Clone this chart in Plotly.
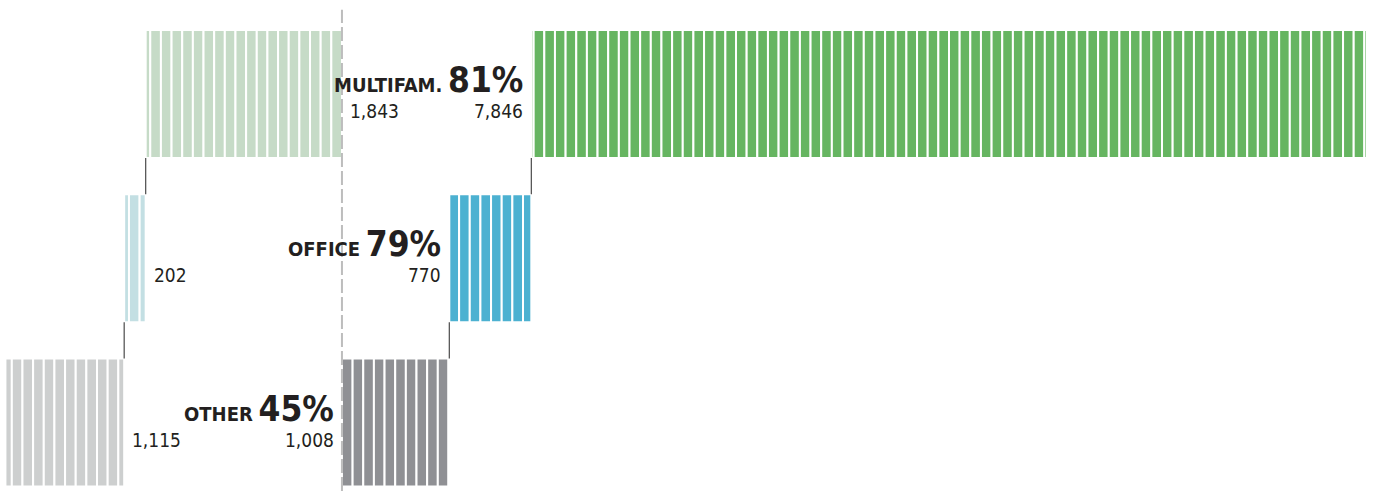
import math
import plotly.graph_objects as go

# ---- data ----
categories = ["MULTIFAM.", "OFFICE", "OTHER"]
left_values = [1843, 202, 1115]      # left (lighter) bars
right_values = [7846, 770, 1008]     # right (darker) bars
share_labels = ["81%", "79%", "45%"]
left_colors = ["#c6dbc7", "#c3dfe3", "#cdcfcf"]
right_colors = ["#66b561", "#4cb1d1", "#8f9094"]

rows = [2, 1, 0]          # vertical position of each category (top to bottom)
HALF = 0.39               # half bar thickness in row units
STEP = 100                # units per stripe
TEXT = "#231f20"
FONT = "Liberation Sans Narrow, Arial Narrow, DejaVu Sans Condensed, sans-serif"

n = len(categories)
# right side stacks from the bottom row upward
right_start = [0] * n
acc = 0
for i in reversed(range(n)):
    right_start[i] = acc
    acc += right_values[i]
# left side stacks from the top row downward (negative direction)
left_start = [0] * n
acc = 0
for i in range(n):
    left_start[i] = -acc
    acc += left_values[i]


def chunks(a, b, step=STEP):
    """split [a, b] (a < b) at multiples of step"""
    cuts = [a]
    k = math.floor(a / step) + 1
    while k * step < b:
        cuts.append(k * step)
        k += 1
    cuts.append(b)
    return [(cuts[j], cuts[j + 1] - cuts[j]) for j in range(len(cuts) - 1)]


fig = go.Figure()

for i in range(n):
    for (lo, hi, col) in [
        (left_start[i] - left_values[i], left_start[i], left_colors[i]),
        (right_start[i], right_start[i] + right_values[i], right_colors[i]),
    ]:
        parts = chunks(lo, hi)
        fig.add_trace(go.Bar(
            orientation="h",
            y=[rows[i]] * len(parts),
            base=[p[0] for p in parts],
            x=[p[1] for p in parts],
            width=HALF * 2,
            marker=dict(color=col, line=dict(color="white", width=2)),
            hoverinfo="skip",
            showlegend=False,
        ))

# connectors between consecutive rows
for i in range(n - 1):
    y_top = rows[i] - HALF
    y_bot = rows[i + 1] + HALF
    for xv in (left_start[i] - left_values[i], right_start[i]):
        fig.add_trace(go.Scatter(
            x=[xv, xv], y=[y_top, y_bot], mode="lines",
            line=dict(color="#4a4a4a", width=1.2),
            hoverinfo="skip", showlegend=False,
        ))

# dashed zero line
fig.add_shape(type="line", xref="x", yref="paper", x0=0, x1=0, y0=0, y1=0.98,
              line=dict(color="#bdbdbd", width=2, dash="14px,4px"))

# labels
for i in range(n):
    xr = right_start[i]
    fig.add_annotation(
        x=xr, y=rows[i], xanchor="right", yanchor="bottom",
        xshift=-6, yshift=-8, showarrow=False,
        text=f"<b>{categories[i]}</b> <span style='font-size:35px'><b>{share_labels[i]}</b></span>",
        font=dict(family=FONT, size=20, color=TEXT),
    )
    fig.add_annotation(
        x=xr, y=rows[i], xanchor="right", yanchor="top",
        xshift=-6, yshift=-4, showarrow=False,
        text=f"{right_values[i]:,}",
        font=dict(family=FONT, size=19, color=TEXT),
    )
    fig.add_annotation(
        x=left_start[i], y=rows[i], xanchor="left", yanchor="top",
        xshift=6, yshift=-4, showarrow=False,
        text=f"{left_values[i]:,}",
        font=dict(family=FONT, size=19, color=TEXT),
    )

fig.update_layout(
    width=1380, height=491,
    margin=dict(l=0, r=0, t=0, b=0),
    paper_bgcolor="white", plot_bgcolor="white",
    barmode="overlay",
    xaxis=dict(range=[-3211, 9747], visible=False, fixedrange=True),
    yaxis=dict(range=[-0.417, 2.572], visible=False, fixedrange=True),
    showlegend=False,
)

fig.write_html("out.html",
               config={"displayModeBar": False},
               post_script="document.body.style.margin='0';document.body.style.padding='0';")
